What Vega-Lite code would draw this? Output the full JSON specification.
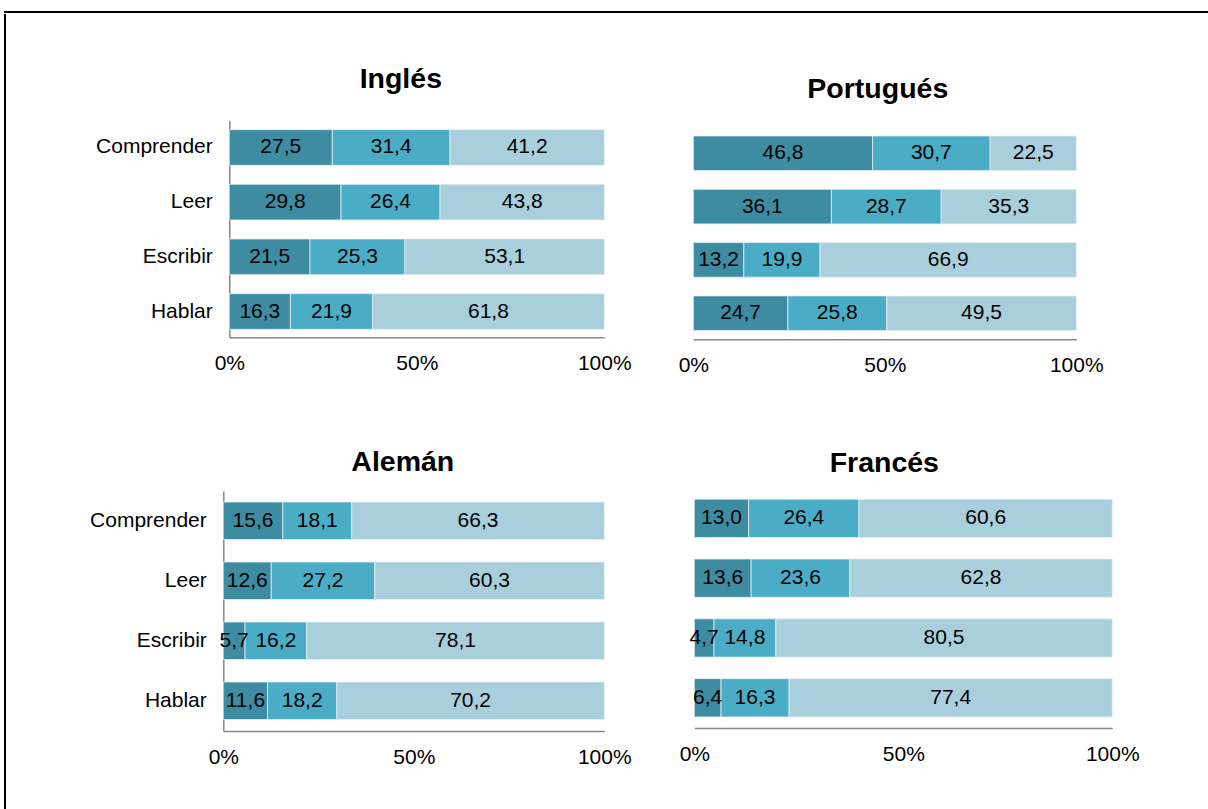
{
  "$schema": "https://vega.github.io/schema/vega-lite/v6.json",
  "padding": {"left": 4, "top": 11, "right": 0, "bottom": 0},
  "background": "white",
  "config": {
    "view": {"stroke": null},
    "font": "Liberation Sans",
    "locale": {"number": {"decimal": ",", "thousands": ".", "grouping": [3], "currency": ["", " €"]}},
    "axis": {"domainColor": "#888888", "domainWidth": 1.5, "ticks": false, "grid": false, "labelFont": "Liberation Sans", "labelFontSize": 21, "labelColor": "#000000", "labelPadding": 17, "labelFlush": false, "labelOverlap": false, "labelLimit": 300},
    "axisX": {"labelPadding": 15.5},
    "title": {"font": "Liberation Sans", "fontSize": 28.5, "fontWeight": "bold", "color": "#000000", "anchor": "middle", "frame": "group", "baseline": "alphabetic"}
  },
  "datasets": {
    "d": [
      {"lang": "Inglés", "skill": "Comprender", "k": 1, "v": 27.5},
      {"lang": "Inglés", "skill": "Comprender", "k": 2, "v": 31.4},
      {"lang": "Inglés", "skill": "Comprender", "k": 3, "v": 41.2},
      {"lang": "Inglés", "skill": "Leer", "k": 1, "v": 29.8},
      {"lang": "Inglés", "skill": "Leer", "k": 2, "v": 26.4},
      {"lang": "Inglés", "skill": "Leer", "k": 3, "v": 43.8},
      {"lang": "Inglés", "skill": "Escribir", "k": 1, "v": 21.5},
      {"lang": "Inglés", "skill": "Escribir", "k": 2, "v": 25.3},
      {"lang": "Inglés", "skill": "Escribir", "k": 3, "v": 53.1},
      {"lang": "Inglés", "skill": "Hablar", "k": 1, "v": 16.3},
      {"lang": "Inglés", "skill": "Hablar", "k": 2, "v": 21.9},
      {"lang": "Inglés", "skill": "Hablar", "k": 3, "v": 61.8},
      {"lang": "Portugués", "skill": "Comprender", "k": 1, "v": 46.8},
      {"lang": "Portugués", "skill": "Comprender", "k": 2, "v": 30.7},
      {"lang": "Portugués", "skill": "Comprender", "k": 3, "v": 22.5},
      {"lang": "Portugués", "skill": "Leer", "k": 1, "v": 36.1},
      {"lang": "Portugués", "skill": "Leer", "k": 2, "v": 28.7},
      {"lang": "Portugués", "skill": "Leer", "k": 3, "v": 35.3},
      {"lang": "Portugués", "skill": "Escribir", "k": 1, "v": 13.2},
      {"lang": "Portugués", "skill": "Escribir", "k": 2, "v": 19.9},
      {"lang": "Portugués", "skill": "Escribir", "k": 3, "v": 66.9},
      {"lang": "Portugués", "skill": "Hablar", "k": 1, "v": 24.7},
      {"lang": "Portugués", "skill": "Hablar", "k": 2, "v": 25.8},
      {"lang": "Portugués", "skill": "Hablar", "k": 3, "v": 49.5},
      {"lang": "Alemán", "skill": "Comprender", "k": 1, "v": 15.6},
      {"lang": "Alemán", "skill": "Comprender", "k": 2, "v": 18.1},
      {"lang": "Alemán", "skill": "Comprender", "k": 3, "v": 66.3},
      {"lang": "Alemán", "skill": "Leer", "k": 1, "v": 12.6},
      {"lang": "Alemán", "skill": "Leer", "k": 2, "v": 27.2},
      {"lang": "Alemán", "skill": "Leer", "k": 3, "v": 60.3},
      {"lang": "Alemán", "skill": "Escribir", "k": 1, "v": 5.7},
      {"lang": "Alemán", "skill": "Escribir", "k": 2, "v": 16.2},
      {"lang": "Alemán", "skill": "Escribir", "k": 3, "v": 78.1},
      {"lang": "Alemán", "skill": "Hablar", "k": 1, "v": 11.6},
      {"lang": "Alemán", "skill": "Hablar", "k": 2, "v": 18.2},
      {"lang": "Alemán", "skill": "Hablar", "k": 3, "v": 70.2},
      {"lang": "Francés", "skill": "Comprender", "k": 1, "v": 13.0},
      {"lang": "Francés", "skill": "Comprender", "k": 2, "v": 26.4},
      {"lang": "Francés", "skill": "Comprender", "k": 3, "v": 60.6},
      {"lang": "Francés", "skill": "Leer", "k": 1, "v": 13.6},
      {"lang": "Francés", "skill": "Leer", "k": 2, "v": 23.6},
      {"lang": "Francés", "skill": "Leer", "k": 3, "v": 62.8},
      {"lang": "Francés", "skill": "Escribir", "k": 1, "v": 4.7},
      {"lang": "Francés", "skill": "Escribir", "k": 2, "v": 14.8},
      {"lang": "Francés", "skill": "Escribir", "k": 3, "v": 80.5},
      {"lang": "Francés", "skill": "Hablar", "k": 1, "v": 6.4},
      {"lang": "Francés", "skill": "Hablar", "k": 2, "v": 16.3},
      {"lang": "Francés", "skill": "Hablar", "k": 3, "v": 77.4}
    ]
  },
  "spacing": 0,
  "vconcat": [
    {"width": 1205, "height": 0.01, "data": {"values": []}, "mark": "rule", "encoding": {}, "view": {"stroke": "#000000", "strokeWidth": 2}},
    {
      "spacing": 82.3,
      "hconcat": [
        {"width": 0.01, "height": 797, "data": {"values": []}, "mark": "rule", "encoding": {}, "view": {"stroke": "#000000", "strokeWidth": 2}},
        {
          "spacing": 48.3,
          "vconcat": [
            {"width": 1, "height": 1, "data": {"values": []}, "mark": "rule", "encoding": {}},
            {
              "spacing": 71.7,
              "vconcat": [
                {
                  "bounds": "flush",
                  "spacing": 0,
                  "hconcat": [
                    {"width": 6, "height": 1, "data": {"values": []}, "mark": "rule", "encoding": {}},
                    {
                      "bounds": "flush",
                      "spacing": 89,
                      "hconcat": [
                        {
                          "width": 375, "height": 217,
                          "title": {"text": "Inglés", "offset": 27, "dx": -16},
                          "data": {"name": "d"},
                          "transform": [
                            {"filter": "datum.lang == 'Inglés'"},
                            {"stack": "v", "groupby": ["skill"], "sort": [{"field": "k", "order": "ascending"}], "offset": "normalize", "as": ["x0", "x1"]}
                          ],
                          "encoding": {
                            "y": {"field": "skill", "type": "nominal", "sort": ["Comprender", "Leer", "Escribir", "Hablar"], "title": null, "scale": {"paddingInner": 0.347, "paddingOuter": 0.158, "align": 0.54}}
                          },
                          "layer": [
                            {"mark": {"type": "bar", "stroke": "#e3eff4", "strokeWidth": 0.8}, "encoding": {
                              "x": {"field": "x0", "type": "quantitative", "title": null, "scale": {"domain": [0, 1], "nice": false}, "axis": {"values": [0, 0.5, 1], "format": ".0%"}},
                              "x2": {"field": "x1"},
                              "color": {"field": "k", "type": "ordinal", "scale": {"domain": [1, 2, 3], "range": ["#3e8ca2", "#4bacc6", "#a9cfdd"]}, "legend": null}}},
                            {"transform": [{"fold": ["x0", "x1"], "as": ["edge", "pos"]}, {"aggregate": [{"op": "mean", "field": "pos", "as": "mid"}], "groupby": ["skill", "k", "v"]}],
                             "mark": {"type": "text", "fontSize": 21, "color": "#000000", "font": "Liberation Sans"},
                             "encoding": {"x": {"field": "mid", "type": "quantitative", "title": null}, "text": {"field": "v", "type": "quantitative", "format": ".1f"}}}
                          ]
                        },
                        {
                          "width": 383, "height": 219,
                          "title": {"text": "Portugués", "offset": 17, "dx": -7},
                          "data": {"name": "d"},
                          "transform": [
                            {"filter": "datum.lang == 'Portugués'"},
                            {"stack": "v", "groupby": ["skill"], "sort": [{"field": "k", "order": "ascending"}], "offset": "normalize", "as": ["x0", "x1"]}
                          ],
                          "encoding": {
                            "y": {"field": "skill", "type": "nominal", "sort": ["Comprender", "Leer", "Escribir", "Hablar"], "title": null, "axis": null, "scale": {"paddingInner": 0.351, "paddingOuter": 0.23, "align": 0.64}}
                          },
                          "layer": [
                            {"mark": {"type": "bar", "stroke": "#e3eff4", "strokeWidth": 0.8}, "encoding": {
                              "x": {"field": "x0", "type": "quantitative", "title": null, "scale": {"domain": [0, 1], "nice": false}, "axis": {"values": [0, 0.5, 1], "format": ".0%"}},
                              "x2": {"field": "x1"},
                              "color": {"field": "k", "type": "ordinal", "scale": {"domain": [1, 2, 3], "range": ["#3e8ca2", "#4bacc6", "#a9cfdd"]}, "legend": null}}},
                            {"transform": [{"fold": ["x0", "x1"], "as": ["edge", "pos"]}, {"aggregate": [{"op": "mean", "field": "pos", "as": "mid"}], "groupby": ["skill", "k", "v"]}],
                             "mark": {"type": "text", "fontSize": 21, "color": "#000000", "font": "Liberation Sans"},
                             "encoding": {"x": {"field": "mid", "type": "quantitative", "title": null}, "text": {"field": "v", "type": "quantitative", "format": ".1f"}}}
                          ]
                        }
                      ]
                    }
                  ]
                },
                {
                  "bounds": "flush",
                  "spacing": 90,
                  "hconcat": [
                    {
                      "width": 381, "height": 240,
                      "title": {"text": "Alemán", "offset": 14.5, "dx": -11},
                      "data": {"name": "d"},
                      "transform": [
                        {"filter": "datum.lang == 'Alemán'"},
                        {"stack": "v", "groupby": ["skill"], "sort": [{"field": "k", "order": "ascending"}], "offset": "normalize", "as": ["x0", "x1"]}
                      ],
                      "encoding": {
                        "y": {"field": "skill", "type": "nominal", "sort": ["Comprender", "Leer", "Escribir", "Hablar"], "title": null, "scale": {"paddingInner": 0.375, "paddingOuter": 0.1875, "align": 0.49}}
                      },
                      "layer": [
                        {"mark": {"type": "bar", "stroke": "#e3eff4", "strokeWidth": 0.8}, "encoding": {
                          "x": {"field": "x0", "type": "quantitative", "title": null, "scale": {"domain": [0, 1], "nice": false}, "axis": {"values": [0, 0.5, 1], "format": ".0%"}},
                          "x2": {"field": "x1"},
                          "color": {"field": "k", "type": "ordinal", "scale": {"domain": [1, 2, 3], "range": ["#3e8ca2", "#4bacc6", "#a9cfdd"]}, "legend": null}}},
                        {"transform": [{"fold": ["x0", "x1"], "as": ["edge", "pos"]}, {"aggregate": [{"op": "mean", "field": "pos", "as": "mid"}], "groupby": ["skill", "k", "v"]}],
                         "mark": {"type": "text", "fontSize": 21, "color": "#000000", "font": "Liberation Sans"},
                         "encoding": {"x": {"field": "mid", "type": "quantitative", "title": null}, "text": {"field": "v", "type": "quantitative", "format": ".1f"}}}
                      ]
                    },
                    {
                      "width": 418, "height": 237,
                      "title": {"text": "Francés", "offset": 13.5, "dx": -19},
                      "data": {"name": "d"},
                      "transform": [
                        {"filter": "datum.lang == 'Francés'"},
                        {"stack": "v", "groupby": ["skill"], "sort": [{"field": "k", "order": "ascending"}], "offset": "normalize", "as": ["x0", "x1"]}
                      ],
                      "encoding": {
                        "y": {"field": "skill", "type": "nominal", "sort": ["Comprender", "Leer", "Escribir", "Hablar"], "title": null, "axis": null, "scale": {"paddingInner": 0.36, "paddingOuter": 0.161, "align": 0.425}}
                      },
                      "layer": [
                        {"mark": {"type": "bar", "stroke": "#e3eff4", "strokeWidth": 0.8}, "encoding": {
                          "x": {"field": "x0", "type": "quantitative", "title": null, "scale": {"domain": [0, 1], "nice": false}, "axis": {"values": [0, 0.5, 1], "format": ".0%"}},
                          "x2": {"field": "x1"},
                          "color": {"field": "k", "type": "ordinal", "scale": {"domain": [1, 2, 3], "range": ["#3e8ca2", "#4bacc6", "#a9cfdd"]}, "legend": null}}},
                        {"transform": [{"fold": ["x0", "x1"], "as": ["edge", "pos"]}, {"aggregate": [{"op": "mean", "field": "pos", "as": "mid"}], "groupby": ["skill", "k", "v"]}],
                         "mark": {"type": "text", "fontSize": 21, "color": "#000000", "font": "Liberation Sans"},
                         "encoding": {"x": {"field": "mid", "type": "quantitative", "title": null}, "text": {"field": "v", "type": "quantitative", "format": ".1f"}}}
                      ]
                    }
                  ]
                }
              ]
            }
          ]
        }
      ]
    }
  ]
}
